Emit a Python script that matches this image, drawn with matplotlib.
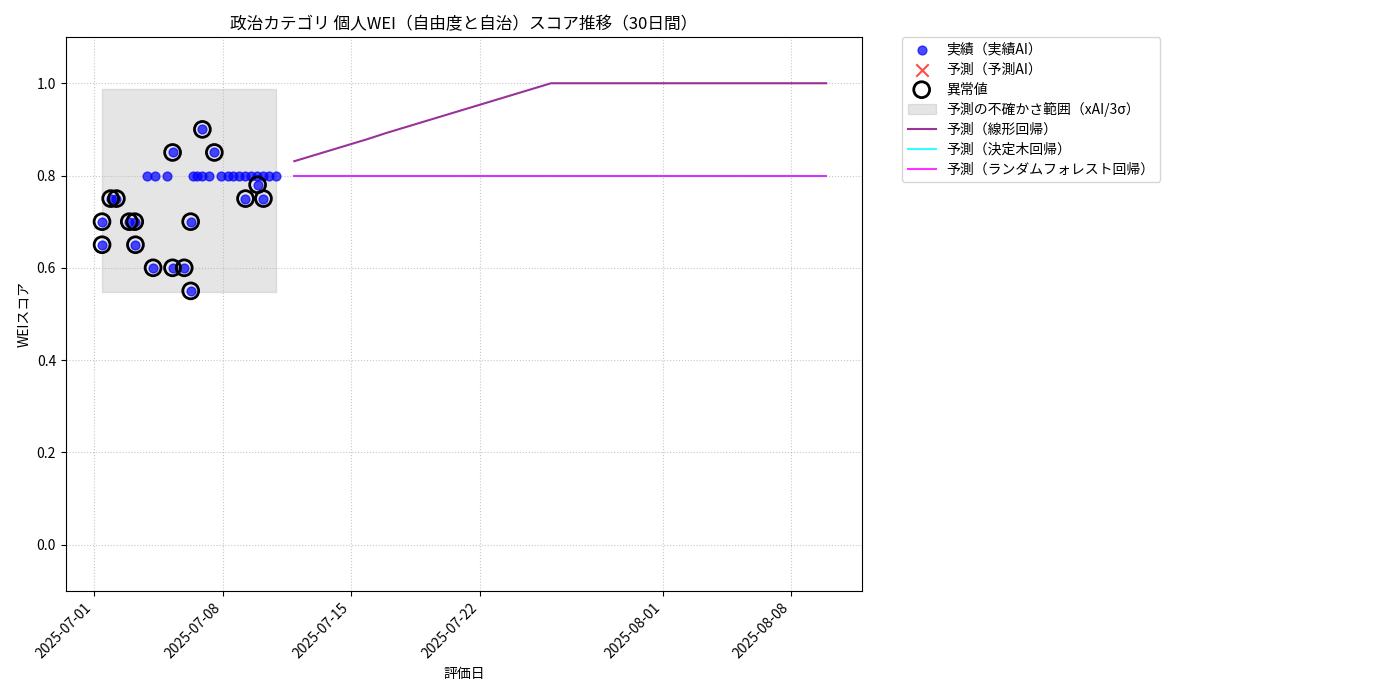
import numpy as np
import pandas as pd
import matplotlib
matplotlib.use("Agg")
import matplotlib.pyplot as plt
import matplotlib.dates as mdates

plt.rcParams['font.family'] = ['Noto Sans CJK JP', 'DejaVu Sans']

# actual scores (実績AI)
dates = [
    "2025-07-01 10:00", "2025-07-01 10:05", "2025-07-01 21:20", "2025-07-02 04:50",
    "2025-07-02 21:40", "2025-07-03 04:50", "2025-07-03 05:45", "2025-07-03 21:10",
    "2025-07-04 04:50", "2025-07-04 07:40", "2025-07-04 22:35", "2025-07-05 06:15",
    "2025-07-05 06:20", "2025-07-05 21:35", "2025-07-06 06:00", "2025-07-06 06:05",
    "2025-07-06 09:20", "2025-07-06 13:55", "2025-07-06 20:25", "2025-07-06 21:20",
    "2025-07-07 05:30", "2025-07-07 13:00", "2025-07-07 21:20", "2025-07-08 06:15",
    "2025-07-08 13:55", "2025-07-08 21:20", "2025-07-09 05:15", "2025-07-09 05:45",
    "2025-07-09 12:40", "2025-07-09 20:40", "2025-07-09 21:35", "2025-07-10 04:05",
    "2025-07-10 05:15", "2025-07-10 12:45", "2025-07-10 21:35",
]
scores = [
    0.70, 0.65, 0.75, 0.75,
    0.70, 0.70, 0.65, 0.80,
    0.60, 0.80, 0.80, 0.60,
    0.85, 0.60, 0.70, 0.55,
    0.80, 0.80, 0.80, 0.90,
    0.80, 0.85, 0.80, 0.80,
    0.80, 0.80, 0.80, 0.75,
    0.80, 0.80, 0.78, 0.80,
    0.75, 0.80, 0.80,
]
outlier = [
    1, 1, 1, 1,
    1, 1, 1, 0,
    1, 0, 0, 1,
    1, 1, 1, 1,
    0, 0, 0, 1,
    0, 1, 0, 0,
    0, 0, 0, 1,
    0, 0, 1, 0,
    1, 0, 0,
]

# uncertainty band (xAI / 3 sigma)
band_lower = 0.547
band_upper = 0.987

# 30-day forecasts
forecast_start = "2025-07-11 21:35"
linear_pred = [
    0.831, 0.843, 0.855, 0.867, 0.879, 0.892, 0.904, 0.916, 0.928, 0.940,
    0.952, 0.964, 0.976, 0.988, 1.000, 1.000, 1.000, 1.000, 1.000, 1.000,
    1.000, 1.000, 1.000, 1.000, 1.000, 1.000, 1.000, 1.000, 1.000, 1.000,
]
tree_pred = [0.80] * 30
forest_pred = [0.80] * 30

dates = pd.to_datetime(dates)
scores = np.array(scores)
is_out = np.array(outlier, dtype=bool)
f_dates = pd.date_range(forecast_start, periods=len(linear_pred), freq="D")

fig = plt.figure(figsize=(14, 7), dpi=100)
ax = fig.add_axes([0.047, 0.156, 0.569, 0.791])

ax.scatter(dates, scores, color='blue', alpha=0.7, s=40, label='実績（実績AI）', zorder=3)
ax.scatter([], [], color='red', marker='x', s=80, alpha=0.7, label='予測（予測AI）')
ax.scatter(dates[is_out], scores[is_out], facecolors='none', edgecolors='black',
           s=130, linewidths=2, label='異常値', zorder=4)
ax.fill_between([dates[0], dates[-1]], band_lower, band_upper, color='gray', alpha=0.2,
                label='予測の不確かさ範囲（xAI/3σ）')
ax.plot(f_dates, linear_pred, color='purple', alpha=0.8, label='予測（線形回帰）')
ax.plot(f_dates, tree_pred, color='cyan', alpha=0.8, label='予測（決定木回帰）')
ax.plot(f_dates, forest_pred, color='magenta', alpha=0.8, label='予測（ランダムフォレスト回帰）')

ax.set_ylim(-0.1, 1.1)
ax.set_title('政治カテゴリ 個人WEI（自由度と自治）スコア推移（30日間）', fontsize=12)
ax.set_xlabel('評価日')
ax.set_ylabel('WEIスコア')
ax.xaxis.set_major_formatter(mdates.DateFormatter('%Y-%m-%d'))
plt.setp(ax.get_xticklabels(), rotation=45, ha='right')
ax.grid(True, linestyle=':', alpha=0.7)
ax.legend(bbox_to_anchor=(1.05, 1), loc='upper left', borderaxespad=0, labelspacing=0.42)

fig.savefig('out.png')
